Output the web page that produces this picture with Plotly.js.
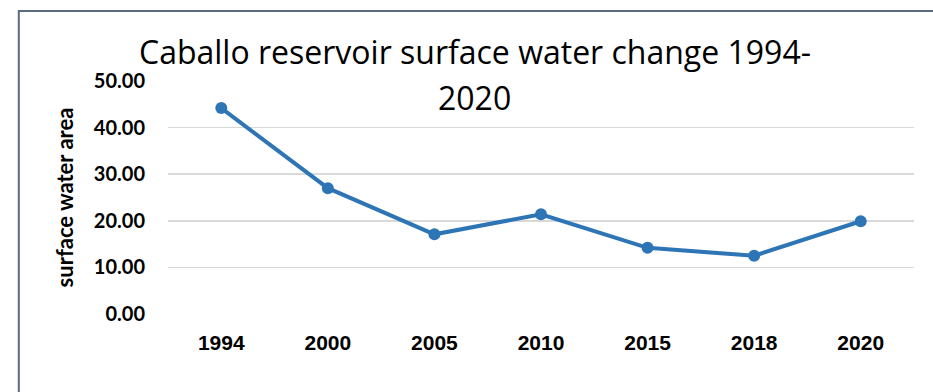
<!DOCTYPE html>
<html>
<head>
<meta charset="utf-8">
<script src="https://cdn.plot.ly/plotly-3.0.1.min.js"></script>
<style>html,body{margin:0;padding:0;background:#fff;}#chart{width:933px;height:392px;}</style>
</head>
<body>
<div id="chart"></div>
<script>
const years = ["1994", "2000", "2005", "2010", "2015", "2018", "2020"];
const surfaceArea = [44.2, 27.0, 17.1, 21.4, 14.2, 12.5, 19.9];
const yTickValues = [0, 10, 20, 30, 40, 50];
const yTickLabels = ["0.00", "10.00", "20.00", "30.00", "40.00", "50.00"];
const titleLine1 = "Caballo reservoir surface water change 1994-";
const titleLine2 = "2020";
const yTitle = "surface water area";

const trace = {
  type: "scatter",
  mode: "lines+markers",
  x: years,
  y: surfaceArea,
  line: {color: "#2e75b6", width: 4},
  marker: {color: "#2e75b6", size: 12},
  hoverinfo: "x+y"
};

const titleFont = {family: "'Open Sans', Lato, sans-serif", size: 32, color: "#000000"};

const layout = {
  width: 933,
  height: 392,
  margin: {l: 168, r: 19, t: 81, b: 78},
  paper_bgcolor: "#ffffff",
  plot_bgcolor: "#ffffff",
  showlegend: false,
  title: {
    text: titleLine1,
    font: titleFont,
    x: 0.4115, xanchor: "center",
    y: 0.865, yanchor: "middle",
    xref: "paper", yref: "container"
  },
  annotations: [{
    text: titleLine2,
    xref: "paper", yref: "paper",
    x: 0.4115, y: 0.928,
    xanchor: "center", yanchor: "middle",
    showarrow: false,
    font: titleFont
  }],
  xaxis: {
    type: "category",
    range: [-0.5, 6.5],
    showgrid: false,
    showline: false,
    zeroline: false,
    ticks: "",
    ticklabelstandoff: 14,
    tickfont: {family: "'Liberation Sans', Arial, sans-serif", size: 21, color: "#000000", weight: "bold"}
  },
  yaxis: {
    range: [0, 50],
    tickvals: yTickValues,
    ticktext: yTickLabels,
    showgrid: true,
    gridcolor: "#d9d9d9",
    gridwidth: 1.5,
    zeroline: false,
    showline: false,
    ticks: "",
    ticklabelstandoff: 22,
    tickfont: {family: "Lato, sans-serif", size: 20, color: "#000000", weight: "bold"},
    title: {
      text: yTitle,
      standoff: 14,
      font: {family: "Lato, sans-serif", size: 22, color: "#000000", weight: "bold"}
    }
  },
  shapes: [{
    type: "rect", xref: "paper", yref: "paper",
    x0: -0.2, x1: 1.2, y0: -0.5, y1: 1.3,
    line: {color: "#5b6b84", width: 2},
    layer: "below"
  }]
};

Plotly.newPlot("chart", [trace], layout, {displayModeBar: false, staticPlot: true});
</script>
</body>
</html>
